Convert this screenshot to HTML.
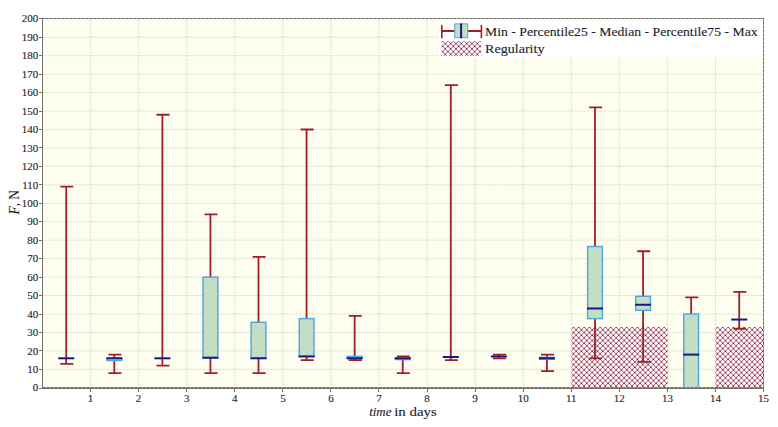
<!DOCTYPE html>
<html><head><meta charset="utf-8"><title>chart</title>
<style>
html,body{margin:0;padding:0;background:#fff;width:778px;height:427px;overflow:hidden}
svg{display:block}
text{font-family:"Liberation Serif",serif;fill:#1e1e28;stroke:#1e1e28;stroke-width:0.12px}
</style></head><body>
<svg width="778" height="427" viewBox="0 0 778 427">
<defs><pattern id="h" patternUnits="userSpaceOnUse" width="5.3333" height="5.3333" x="573.5" y="327.2"><rect width="5.3333" height="5.3333" fill="#ffffff" fill-opacity="0.6"/><path d="M-1,-1L6.333,6.333M6.333,-1L-1,6.333" stroke="#9c2254" stroke-width="0.8" fill="none" stroke-opacity="0.95"/><circle cx="0.0000" cy="0.0000" r="0.68" fill="#780a36"/><circle cx="5.3333" cy="0.0000" r="0.68" fill="#780a36"/><circle cx="0.0000" cy="5.3333" r="0.68" fill="#780a36"/><circle cx="5.3333" cy="5.3333" r="0.68" fill="#780a36"/><circle cx="2.6667" cy="2.6667" r="0.68" fill="#780a36"/></pattern><pattern id="hl" patternUnits="userSpaceOnUse" width="5.3333" height="5.3333" x="445.3" y="43.6"><rect width="5.3333" height="5.3333" fill="#ffffff" fill-opacity="0.6"/><path d="M-1,-1L6.333,6.333M6.333,-1L-1,6.333" stroke="#9c2254" stroke-width="0.8" fill="none" stroke-opacity="0.95"/><circle cx="0.0000" cy="0.0000" r="0.68" fill="#780a36"/><circle cx="5.3333" cy="0.0000" r="0.68" fill="#780a36"/><circle cx="0.0000" cy="5.3333" r="0.68" fill="#780a36"/><circle cx="5.3333" cy="5.3333" r="0.68" fill="#780a36"/><circle cx="2.6667" cy="2.6667" r="0.68" fill="#780a36"/></pattern></defs>
<rect x="43" y="19" width="720" height="368" fill="#fdfef0"/>
<path d="M43,369.35H763M43,350.90H763M43,332.45H763M43,314.00H763M43,295.55H763M43,277.10H763M43,258.65H763M43,240.20H763M43,221.75H763M43,203.30H763M43,184.85H763M43,166.40H763M43,147.95H763M43,129.50H763M43,111.05H763M43,92.60H763M43,74.15H763M43,55.70H763M43,37.25H763M90.57,19V387M138.64,19V387M186.71,19V387M234.78,19V387M282.85,19V387M330.92,19V387M378.99,19V387M427.06,19V387M475.13,19V387M523.20,19V387M571.27,19V387M619.34,19V387M667.41,19V387M715.48,19V387" stroke="#cde0c2" stroke-width="0.8" stroke-dasharray="3,1" fill="none"/>
<rect x="571.50" y="326.92" width="96.00" height="60.08" fill="url(#h)"/>
<rect x="715.50" y="326.92" width="47.50" height="60.08" fill="url(#h)"/>
<path d="M66.23,186.70V363.81M60.33,186.70H73.33M60.33,363.81H73.33" stroke="#a0202a" stroke-width="1.8" fill="none"/>
<path d="M58.23,358.28H74.23" stroke="#17178a" stroke-width="2" fill="none"/>
<path d="M114.31,354.59V373.04M108.41,354.59H121.41M108.41,373.04H121.41" stroke="#a0202a" stroke-width="1.8" fill="none"/>
<rect x="106.91" y="358.28" width="14.80" height="2.21" fill="#c3dec5" stroke="#4aa7d6" stroke-width="1.4"/>
<path d="M106.31,358.28H122.31" stroke="#17178a" stroke-width="2" fill="none"/>
<path d="M162.38,114.74V365.66M156.47,114.74H169.47M156.47,365.66H169.47" stroke="#a0202a" stroke-width="1.8" fill="none"/>
<path d="M154.38,358.28H170.38" stroke="#17178a" stroke-width="2" fill="none"/>
<path d="M210.44,214.37V373.04M204.54,214.37H217.54M204.54,373.04H217.54" stroke="#a0202a" stroke-width="1.8" fill="none"/>
<rect x="203.04" y="277.10" width="14.80" height="80.63" fill="#c3dec5" stroke="#4aa7d6" stroke-width="1.4"/>
<path d="M202.44,357.73H218.44" stroke="#17178a" stroke-width="2" fill="none"/>
<path d="M258.51,256.81V373.04M252.62,256.81H265.62M252.62,373.04H265.62" stroke="#a0202a" stroke-width="1.8" fill="none"/>
<rect x="251.11" y="322.30" width="14.80" height="35.98" fill="#c3dec5" stroke="#4aa7d6" stroke-width="1.4"/>
<path d="M250.51,358.28H266.51" stroke="#17178a" stroke-width="2" fill="none"/>
<path d="M306.58,129.50V360.12M300.69,129.50H313.69M300.69,360.12H313.69" stroke="#a0202a" stroke-width="1.8" fill="none"/>
<rect x="299.19" y="318.61" width="14.80" height="37.82" fill="#c3dec5" stroke="#4aa7d6" stroke-width="1.4"/>
<path d="M298.58,356.44H314.58" stroke="#17178a" stroke-width="2" fill="none"/>
<path d="M354.65,315.85V360.12M348.75,315.85H361.75M348.75,360.12H361.75" stroke="#a0202a" stroke-width="1.8" fill="none"/>
<rect x="347.25" y="356.44" width="14.80" height="1.85" fill="#c3dec5" stroke="#4aa7d6" stroke-width="1.4"/>
<path d="M346.65,358.28H362.65" stroke="#17178a" stroke-width="2" fill="none"/>
<path d="M402.72,356.44V373.04M396.82,356.44H409.82M396.82,373.04H409.82" stroke="#a0202a" stroke-width="1.8" fill="none"/>
<rect x="395.32" y="358.28" width="14.80" height="1.29" fill="#c3dec5" stroke="#4aa7d6" stroke-width="1.4"/>
<path d="M394.72,358.28H410.72" stroke="#17178a" stroke-width="2" fill="none"/>
<path d="M450.80,85.22V360.12M444.90,85.22H457.90M444.90,360.12H457.90" stroke="#a0202a" stroke-width="1.8" fill="none"/>
<path d="M442.80,356.99H458.80" stroke="#17178a" stroke-width="2" fill="none"/>
<path d="M498.87,354.59V358.28M492.97,354.59H505.97M492.97,358.28H505.97" stroke="#a0202a" stroke-width="1.8" fill="none"/>
<path d="M490.87,356.44H506.87" stroke="#17178a" stroke-width="2" fill="none"/>
<path d="M546.94,354.59V371.19M541.04,354.59H554.04M541.04,371.19H554.04" stroke="#a0202a" stroke-width="1.8" fill="none"/>
<rect x="539.54" y="357.36" width="14.80" height="1.84" fill="#c3dec5" stroke="#4aa7d6" stroke-width="1.4"/>
<path d="M538.94,358.28H554.94" stroke="#17178a" stroke-width="2" fill="none"/>
<path d="M595.00,107.36V358.28M589.11,107.36H602.11M589.11,358.28H602.11" stroke="#a0202a" stroke-width="1.8" fill="none"/>
<rect x="587.61" y="246.47" width="14.80" height="72.14" fill="#c3dec5" stroke="#4aa7d6" stroke-width="1.4"/>
<path d="M587.00,308.47H603.00" stroke="#17178a" stroke-width="2" fill="none"/>
<path d="M643.08,251.27V361.97M637.18,251.27H650.18M637.18,361.97H650.18" stroke="#a0202a" stroke-width="1.8" fill="none"/>
<rect x="635.68" y="296.29" width="14.80" height="14.02" fill="#c3dec5" stroke="#4aa7d6" stroke-width="1.4"/>
<path d="M635.08,304.77H651.08" stroke="#17178a" stroke-width="2" fill="none"/>
<path d="M691.15,297.39V387.80M685.25,297.39H698.25M685.25,387.80H698.25" stroke="#a0202a" stroke-width="1.8" fill="none"/>
<rect x="683.75" y="314.00" width="14.80" height="73.80" fill="#c3dec5" stroke="#4aa7d6" stroke-width="1.4"/>
<path d="M683.15,354.59H699.15" stroke="#17178a" stroke-width="2" fill="none"/>
<path d="M739.22,291.86V328.76M733.32,291.86H746.32M733.32,328.76H746.32" stroke="#a0202a" stroke-width="1.8" fill="none"/>
<path d="M731.22,319.54H747.22" stroke="#17178a" stroke-width="2" fill="none"/>
<path d="M42,18.5H763.5M763.5,18V388M43,387.5H763" stroke="#b4b6ac" stroke-width="1" fill="none"/>
<path d="M42,18.5H763.5M763.5,18V388M43,387.5H763" stroke="#6a6c64" stroke-width="1" stroke-dasharray="2.5,1.5" fill="none"/>
<path d="M42.5,18V389M42,388.5H764" stroke="#72736b" stroke-width="1" fill="none"/>
<path d="M39,388.5H42M39,369.5H42M39,350.5H42M39,332.5H42M39,314.5H42M39,295.5H42M39,277.5H42M39,258.5H42M39,240.5H42M39,221.5H42M39,203.5H42M39,184.5H42M39,166.5H42M39,147.5H42M39,129.5H42M39,111.5H42M39,92.5H42M39,74.5H42M39,55.5H42M39,37.5H42M39,18.5H42M90.5,389V392M138.5,389V392M186.5,389V392M234.5,389V392M282.5,389V392M330.5,389V392M378.5,389V392M427.5,389V392M475.5,389V392M523.5,389V392M571.5,389V392M619.5,389V392M667.5,389V392M715.5,389V392M763.5,389V392" stroke="#72736b" stroke-width="1" fill="none"/>
<text x="38.3" y="391.4" font-size="11" text-anchor="end">0</text>
<text x="38.3" y="373.0" font-size="11" text-anchor="end">10</text>
<text x="38.3" y="354.5" font-size="11" text-anchor="end">20</text>
<text x="38.3" y="336.1" font-size="11" text-anchor="end">30</text>
<text x="38.3" y="317.6" font-size="11" text-anchor="end">40</text>
<text x="38.3" y="299.2" font-size="11" text-anchor="end">50</text>
<text x="38.3" y="280.7" font-size="11" text-anchor="end">60</text>
<text x="38.3" y="262.2" font-size="11" text-anchor="end">70</text>
<text x="38.3" y="243.8" font-size="11" text-anchor="end">80</text>
<text x="38.3" y="225.3" font-size="11" text-anchor="end">90</text>
<text x="38.3" y="206.9" font-size="11" text-anchor="end">100</text>
<text x="38.3" y="188.5" font-size="11" text-anchor="end">110</text>
<text x="38.3" y="170.0" font-size="11" text-anchor="end">120</text>
<text x="38.3" y="151.6" font-size="11" text-anchor="end">130</text>
<text x="38.3" y="133.1" font-size="11" text-anchor="end">140</text>
<text x="38.3" y="114.7" font-size="11" text-anchor="end">150</text>
<text x="38.3" y="96.2" font-size="11" text-anchor="end">160</text>
<text x="38.3" y="77.8" font-size="11" text-anchor="end">170</text>
<text x="38.3" y="59.3" font-size="11" text-anchor="end">180</text>
<text x="38.3" y="40.9" font-size="11" text-anchor="end">190</text>
<text x="38.3" y="22.4" font-size="11" text-anchor="end">200</text>
<text x="90.6" y="402" font-size="11" text-anchor="middle">1</text>
<text x="138.6" y="402" font-size="11" text-anchor="middle">2</text>
<text x="186.7" y="402" font-size="11" text-anchor="middle">3</text>
<text x="234.8" y="402" font-size="11" text-anchor="middle">4</text>
<text x="282.9" y="402" font-size="11" text-anchor="middle">5</text>
<text x="330.9" y="402" font-size="11" text-anchor="middle">6</text>
<text x="379.0" y="402" font-size="11" text-anchor="middle">7</text>
<text x="427.1" y="402" font-size="11" text-anchor="middle">8</text>
<text x="475.1" y="402" font-size="11" text-anchor="middle">9</text>
<text x="523.2" y="402" font-size="11" text-anchor="middle">10</text>
<text x="571.3" y="402" font-size="11" text-anchor="middle">11</text>
<text x="619.3" y="402" font-size="11" text-anchor="middle">12</text>
<text x="667.4" y="402" font-size="11" text-anchor="middle">13</text>
<text x="715.5" y="402" font-size="11" text-anchor="middle">14</text>
<text x="763.5" y="402" font-size="11" text-anchor="middle">15</text>
<text x="369.2" y="416.3" font-size="12.8" font-style="italic" textLength="22.2" lengthAdjust="spacingAndGlyphs">time</text>
<text x="394.2" y="416.3" font-size="12.8" textLength="42.6" lengthAdjust="spacingAndGlyphs">in days</text>
<text transform="translate(19,214.5) rotate(-90)" font-size="14" textLength="24.4" lengthAdjust="spacingAndGlyphs"><tspan font-style="italic">F</tspan>, N</text>
<rect x="439" y="19" width="324" height="38" fill="#ffffff"/>
<path d="M441.8,25V38.2M481.4,25V38.2" stroke="#a0202a" stroke-width="1.6" fill="none"/>
<path d="M441.8,31H454.5M468,31H481.4" stroke="#a0202a" stroke-width="2" fill="none"/>
<rect x="454.7" y="23.9" width="13" height="13.8" fill="#c3dec5" stroke="#4aa7d6" stroke-width="1"/>
<path d="M461.1,23.4V38.2" stroke="#17178a" stroke-width="2" fill="none"/>
<rect x="441.6" y="41.2" width="39.6" height="14.8" fill="url(#hl)"/>
<text x="485" y="35.7" font-size="13.3" textLength="272.6" lengthAdjust="spacingAndGlyphs">Min - Percentile25 - Median - Percentile75 - Max</text>
<text x="485" y="53.3" font-size="13.3" textLength="59.5" lengthAdjust="spacingAndGlyphs">Regularity</text>
</svg>
</body></html>
